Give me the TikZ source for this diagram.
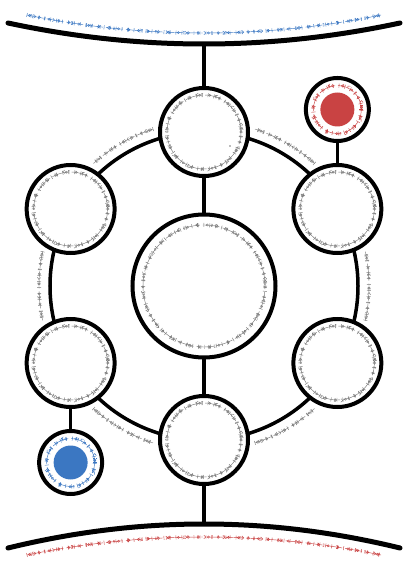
\documentclass[tikz,border=0pt]{standalone}
\usetikzlibrary{positioning,decorations.markings}
\definecolor{inkred}{HTML}{C94343}
\definecolor{inkblue}{HTML}{3B77C2}
\definecolor{inkgray}{HTML}{7A7A7A}

\begin{document}
\begin{tikzpicture}[x=1pt,y=1pt,
  disc/.style={circle,draw,fill=white,line width=4pt,minimum size=88pt,inner sep=0pt},
  seal/.style={disc,minimum size=63pt},
  bar/.style={line width=5pt,line cap=round},
  link/.style={draw,line width=3.5pt,shorten <=-1pt,shorten >=-1pt},
  glyph/.style={draw=#1,line width=0.45pt,solid},
  glyphs/.style={draw=#1,line width=0.45pt,dash pattern=on 17pt off 3pt,
    postaction={decorate,decoration={markings,
      mark=between positions 0 and 1 step 6pt with {\draw[glyph=#1] (0,-2pt) -- (0,2pt);}}},
    postaction={decorate,decoration={markings,
      mark=between positions 0 and 1 step 10pt with {\draw[glyph=#1] (2.5pt,0) circle (1.1pt);}}},
    postaction={decorate,decoration={markings,
      mark=between positions 0 and 1 step 14pt with {\draw[glyph=#1] (3.2pt,1.2pt) -- (4.8pt,1.2pt) (3.2pt,0) -- (4.8pt,0) (3.2pt,-1.2pt) -- (4.8pt,-1.2pt);}}},
    postaction={decorate,decoration={markings,
      mark=between positions 0 and 1 step 19pt with {\draw[glyph=#1] (7pt,1.7pt) -- (9pt,0) -- (7pt,-1.7pt);}}}}]
  \useasboundingbox (-204,-286) rectangle (204,286);

  \draw[link] (0,0) circle (154);

  \node (hub) [disc,minimum size=143pt] at (0,0) {};
  \node (top) [disc] at (90:154) {};
  \node (ur) [disc] at (30:154) {};
  \node (lr) [disc] at (-30:154) {};
  \node (bot) [disc] at (-90:154) {};
  \node (ll) [disc] at (-150:154) {};
  \node (ul) [disc] at (150:154) {};
  \node (red) [seal,above=20pt of ur] {};
  \node (blue) [seal,below=20pt of ll] {};

  \draw[bar] (-196,263) .. controls (-65,235) and (65,235) .. (196,263);
  \draw[bar] (-196,-262) .. controls (-65,-230) and (65,-230) .. (196,-262);
  \coordinate (sky) at (0,241);
  \coordinate (ground) at (0,-238);

  \draw[link] (sky) -- (top);
  \draw[link] (top) -- (hub);
  \draw[link] (hub) -- (bot);
  \draw[link] (bot) -- (ground);
  \draw[link] (ur) -- (red);
  \draw[link] (ll) -- (blue);

  \foreach \n in {top,ur,lr,bot,ll,ul}
    \path[glyphs=inkgray] ([xshift=37pt]\n.center) arc[start angle=0,end angle=360,radius=37];
  \path[glyphs=inkgray] ([xshift=61pt]hub.center) arc[start angle=0,end angle=360,radius=61];
  \foreach \a in {0,60,...,300}
    \path[glyphs=inkgray] (\a-12:165) arc[start angle=\a-12,end angle=\a+12,radius=165];

  \fill[inkred] (red.center) circle (17pt);
  \path[glyphs=inkred] ([xshift=24pt]red.center) arc[start angle=0,end angle=360,radius=24];
  \fill[inkblue] (blue.center) circle (17pt);
  \path[glyphs=inkblue] ([xshift=24pt]blue.center) arc[start angle=0,end angle=360,radius=24];
  \fill[inkgray] ([shift={(26,-14)}]top.center) circle (0.8pt);

  \path[glyphs=inkblue] (-177,271) .. controls (-60,247) and (60,247) .. (177,271);
  \path[glyphs=inkred] (-177,-269) .. controls (-60,-245) and (60,-245) .. (177,-269);
\end{tikzpicture}
\end{document}
